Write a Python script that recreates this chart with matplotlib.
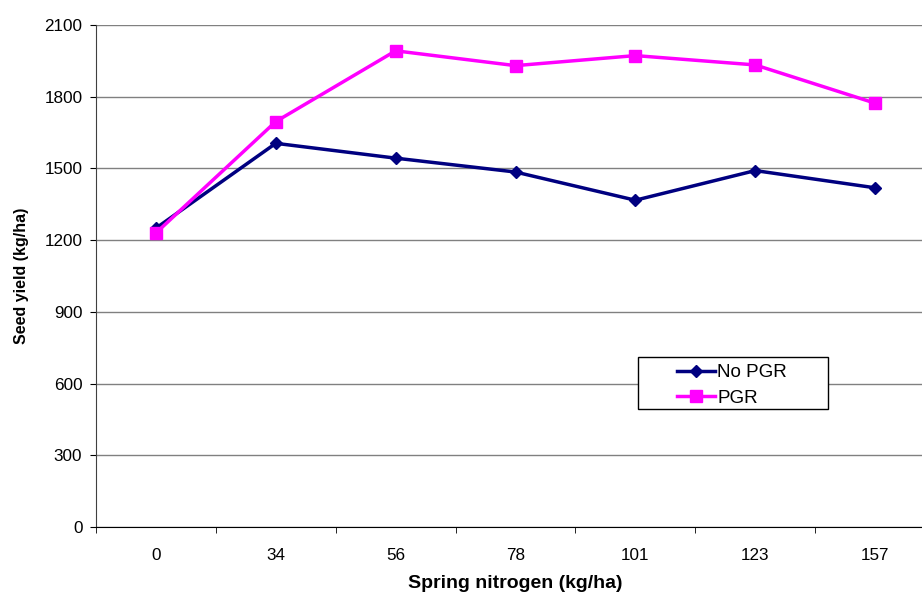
import numpy as np
import matplotlib.pyplot as plt
from matplotlib.patches import Rectangle

plt.rcParams["font.family"] = ["Liberation Sans", "DejaVu Sans"]

# data
nitrogen = ["0", "34", "56", "78", "101", "123", "157"]
no_pgr = [1250, 1605, 1543, 1485, 1367, 1491, 1419]
pgr = [1230, 1696, 1992, 1930, 1972, 1933, 1773]
y_ticks = [0, 300, 600, 900, 1200, 1500, 1800, 2100]

W, H = 922, 597
fig = plt.figure(figsize=(W / 100, H / 100), dpi=100)
# plot area runs past the right edge, as in the original
ax = fig.add_axes([96 / W, 1 - 527 / H, 839 / W, 502 / H])

x = np.arange(len(nitrogen))
ax.plot(x, no_pgr, color="#000080", linewidth=2.5, marker="D", markersize=6.5,
        label="No PGR", zorder=3)
ax.plot(x, pgr, color="#FF00FF", linewidth=2.5, marker="s", markersize=8.5,
        label="PGR", zorder=3)

ax.set_xlim(-0.5, len(nitrogen) - 0.5)
ax.set_ylim(0, 2100)
ax.set_yticks(y_ticks)
ax.set_yticklabels([str(v) for v in y_ticks], fontsize=12.3)

# category labels in the middle, tick marks between categories
ax.set_xticks(x)
ax.set_xticklabels(nitrogen, fontsize=12.3)
ax.tick_params(axis="x", which="major", length=0, pad=15)
ax.set_xticks(np.arange(-0.5, len(nitrogen), 1.0), minor=True)
ax.tick_params(axis="x", which="minor", length=4.3, direction="out", color="black")
ax.tick_params(axis="y", length=4.3, direction="out", color="black", pad=5.5)

ax.yaxis.grid(True, color="#808080", linewidth=1)
ax.set_axisbelow(True)
for side in ["top", "right"]:
    ax.spines[side].set_visible(False)
ax.spines["left"].set_color("#404040")
ax.spines["bottom"].set_color("black")

ax.set_ylabel("Seed yield (kg/ha)", fontsize=11.5, fontweight="bold", labelpad=11)
ax.set_xlabel("Spring nitrogen (kg/ha)", fontsize=14, fontweight="bold", labelpad=9)

# legend box drawn separately so the entries can sit with wide margins
box = Rectangle((638 / W, 1 - 409 / H), 190 / W, 52 / H,
                transform=fig.transFigure, facecolor="white",
                edgecolor="black", linewidth=1, zorder=4, clip_on=False)
ax.add_patch(box)
leg = ax.legend(loc="upper left", bbox_to_anchor=(677 / W, 1 - 364 / H),
                bbox_transform=fig.transFigure, fontsize=13.5, frameon=False,
                borderpad=0, labelspacing=0.46, handlelength=2.0,
                handletextpad=0.15, borderaxespad=0)
leg.set_zorder(5)

fig.savefig("out.png", dpi=100)
